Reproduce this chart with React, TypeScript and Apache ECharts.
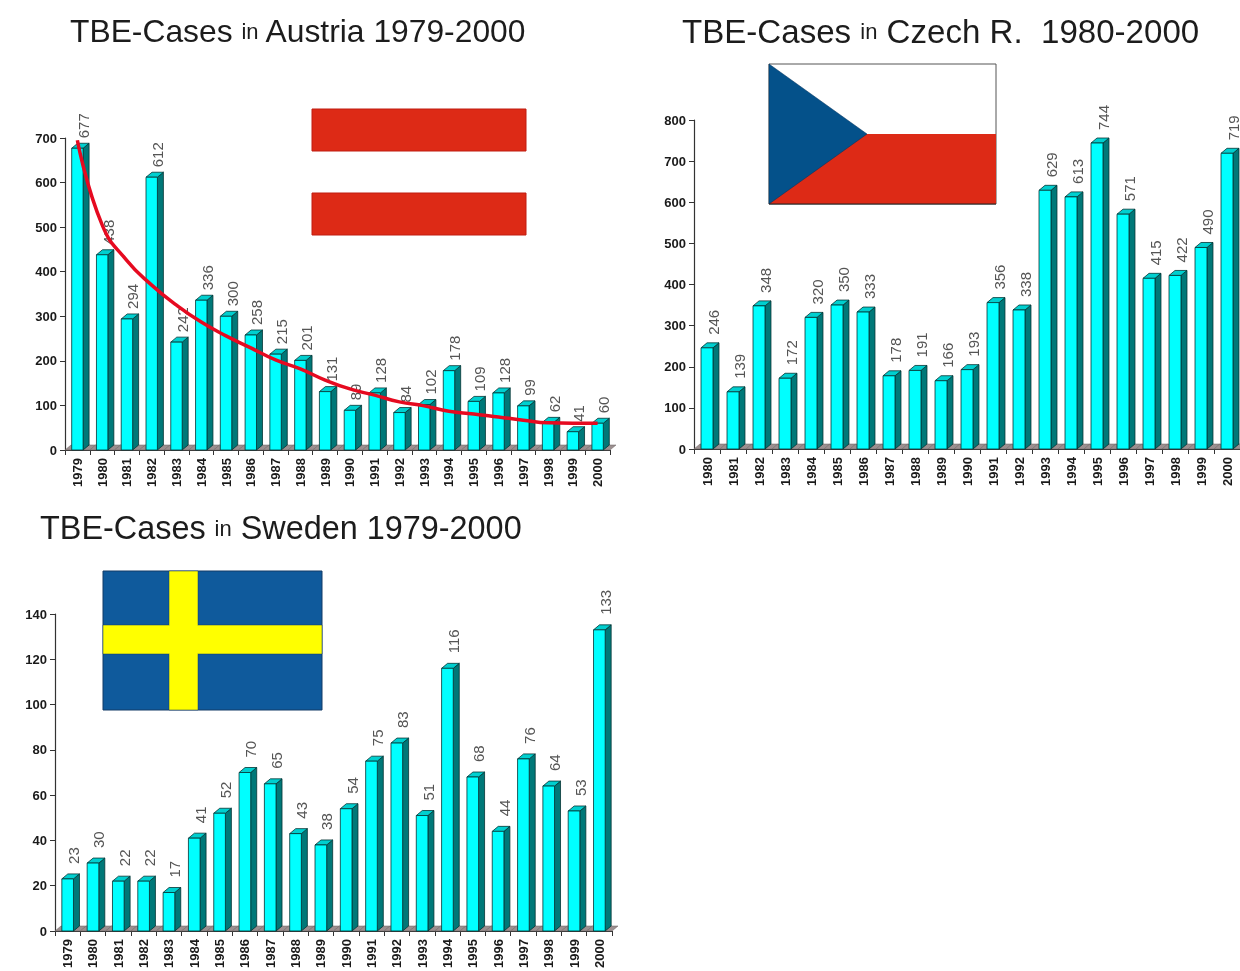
import React, { useEffect, useRef } from "react";
import * as echarts from "echarts";

const yearsAustria = ["1979","1980","1981","1982","1983","1984","1985","1986","1987","1988","1989","1990","1991","1992","1993","1994","1995","1996","1997","1998","1999","2000"];
const yearsCzech = yearsAustria.slice(1);
const yearsSweden = yearsAustria;
const casesAustria = [677,438,294,612,242,336,300,258,215,201,131,89,128,84,102,178,109,128,99,62,41,60];
const casesCzech = [246,139,348,172,320,350,333,178,191,166,193,356,338,629,613,744,571,415,422,490,719];
const casesSweden = [23,30,22,22,17,41,52,70,65,43,38,54,75,83,51,116,68,44,76,64,53,133];
const trendAustria = [695,505,425,370,325,287,256,229,202,182,157,137,123,108,99,87,81,74,67,61,60,60];

const FONT = "'Liberation Sans', Arial, sans-serif";
const DEPTH_X = 6;
const DEPTH_Y = 5;

function renderFloor(_p: any, api: any) {
  const [x, y0] = api.coord([api.value(0), 0]);
  const band = api.size([1, 0])[0];
  const l = x - band / 2, r = x + band / 2;
  return {
    type: "polygon",
    shape: { points: [[l, y0], [r, y0], [r + DEPTH_X, y0 - DEPTH_Y], [l + DEPTH_X, y0 - DEPTH_Y]] },
    style: { fill: "#9c9090", stroke: "#6a6060", lineWidth: 0.5 },
  };
}

const makeRenderBar = (gap: number) => (_p: any, api: any) => {
  const val = api.value(1);
  const [x, yTop] = api.coord([api.value(0), val]);
  const [, y0] = api.coord([api.value(0), 0]);
  const band = api.size([1, 0])[0];
  const w = band * 0.46;
  const l = x - w / 2, r = x + w / 2;
  const edge = { stroke: "#043434", lineWidth: 0.8 };
  return {
    type: "group",
    children: [
      { type: "polygon", shape: { points: [[r, yTop], [r + DEPTH_X, yTop - DEPTH_Y], [r + DEPTH_X, y0 - DEPTH_Y], [r, y0]] }, style: { fill: "#007878", ...edge } },
      { type: "polygon", shape: { points: [[l, yTop], [r, yTop], [r + DEPTH_X, yTop - DEPTH_Y], [l + DEPTH_X, yTop - DEPTH_Y]] }, style: { fill: "#00cfcf", ...edge } },
      { type: "rect", shape: { x: l, y: yTop, width: w, height: y0 - yTop }, style: { fill: "#00ffff", ...edge } },
      {
        type: "text",
        x: x + 6,
        y: yTop - gap,
        rotation: Math.PI / 2,
        style: { text: String(val), fill: "#555555", font: `15px ${FONT}`, textAlign: "left", textVerticalAlign: "middle" },
      },
    ],
  };
};

type Panel = { years: string[]; values: number[]; max: number; step: number; left: number; top: number; width: number; height: number; margin: number; gap: number };
const panels: Panel[] = [
  { years: yearsAustria, values: casesAustria, max: 700, step: 100, left: 65, top: 138, width: 545, height: 312, margin: 8, gap: 10 },
  { years: yearsCzech, values: casesCzech, max: 800, step: 100, left: 694, top: 120, width: 546, height: 329, margin: 8, gap: 13 },
  { years: yearsSweden, values: casesSweden, max: 140, step: 20, left: 55, top: 614, width: 557, height: 317, margin: 8, gap: 15 },
];

const titleOf = (place: string, left: number, top: number, size: number) => ({
  text: `{a|TBE-Cases }{b|in}{a| ${place}}`,
  left,
  top,
  textStyle: {
    rich: {
      a: { fontFamily: FONT, fontSize: size, fontWeight: "normal", color: "#1c1c1c" },
      b: { fontFamily: FONT, fontSize: 22, fontWeight: "normal", color: "#1c1c1c" },
    },
  },
});

export default function App() {
  const ref = useRef<HTMLDivElement>(null);
  useEffect(() => {
    const chart = echarts.init(ref.current!, undefined, { renderer: "svg" });
    const axisLine = { lineStyle: { color: "#333333", width: 1.2 } };
    chart.setOption({
      animation: false,
      backgroundColor: "#ffffff",
      title: [
        titleOf("Austria 1979-2000", 65, 10, 31.8),
        titleOf("Czech R.  1980-2000", 677, 10, 33.1),
        titleOf("Sweden 1979-2000", 35, 507, 32.4),
      ],
      grid: panels.map((p) => ({ left: p.left, top: p.top, width: p.width, height: p.height })),
      xAxis: panels.map((p, i) => ({
        type: "category",
        gridIndex: i,
        data: p.years,
        boundaryGap: true,
        axisLine: { show: true, ...axisLine },
        axisTick: { show: true, alignWithLabel: false, length: 5, lineStyle: { color: "#333333" } },
        axisLabel: { interval: 0, rotate: 90, margin: p.margin, color: "#1a1a1a", fontWeight: "bold", fontSize: 13, fontFamily: FONT },
        splitLine: { show: false },
      })),
      yAxis: panels.map((p, i) => ({
        type: "value",
        gridIndex: i,
        min: 0,
        max: p.max,
        interval: p.step,
        axisLine: { show: true, ...axisLine },
        axisTick: { show: true, length: 5, lineStyle: { color: "#333333" } },
        axisLabel: { margin: 8, color: "#1a1a1a", fontWeight: "bold", fontSize: 13, fontFamily: FONT },
        splitLine: { show: false },
      })),
      series: [
        ...panels.map((p, i) => ({
          type: "custom",
          xAxisIndex: i,
          yAxisIndex: i,
          z: 1,
          silent: true,
          clip: false,
          renderItem: renderFloor,
          encode: { x: 0, y: 1 },
          data: p.values.map((v, k) => [k, v]),
        })),
        ...panels.map((p, i) => ({
          type: "custom",
          xAxisIndex: i,
          yAxisIndex: i,
          z: 3,
          silent: true,
          clip: false,
          renderItem: makeRenderBar(p.gap),
          encode: { x: 0, y: 1 },
          data: p.values.map((v, k) => [k, v]),
        })),
        {
          type: "line",
          xAxisIndex: 0,
          yAxisIndex: 0,
          z: 5,
          smooth: 0.5,
          showSymbol: false,
          lineStyle: { color: "#e60a20", width: 3.5 },
          data: trendAustria,
        },
      ],
      graphic: [
        { type: "rect", z: 6, shape: { x: 312, y: 109, width: 214, height: 42 }, style: { fill: "#dd2a16", stroke: "#c01c10", lineWidth: 1 } },
        { type: "rect", z: 6, shape: { x: 312, y: 193, width: 214, height: 42 }, style: { fill: "#dd2a16", stroke: "#c01c10", lineWidth: 1 } },
        { type: "rect", z: 6, shape: { x: 769, y: 64, width: 227, height: 140 }, style: { fill: "#ffffff", stroke: "#555555", lineWidth: 1 } },
        { type: "polygon", z: 6, shape: { points: [[769, 134], [996, 134], [996, 204], [769, 204]] }, style: { fill: "#dd2a16" } },
        { type: "polygon", z: 6, shape: { points: [[769, 64], [867, 134], [769, 204]] }, style: { fill: "#04518a", stroke: "#03315a", lineWidth: 0.5 } },
        { type: "line", z: 6, shape: { x1: 769, y1: 204, x2: 996, y2: 204 }, style: { stroke: "#222222", lineWidth: 1 } },
        { type: "rect", z: 6, shape: { x: 103, y: 571, width: 219, height: 139 }, style: { fill: "#0f5a9c", stroke: "#123a66", lineWidth: 1 } },
        { type: "rect", z: 6, shape: { x: 169, y: 571, width: 29, height: 139 }, style: { fill: "#ffff00", stroke: "#123a66", lineWidth: 0.5 } },
        { type: "rect", z: 6, shape: { x: 103, y: 625, width: 219, height: 29 }, style: { fill: "#ffff00", stroke: "#123a66", lineWidth: 0.5 } },
        { type: "rect", z: 6, shape: { x: 169.5, y: 624, width: 28, height: 31 }, style: { fill: "#ffff00" } },
      ],
    });
    return () => chart.dispose();
  }, []);
  return <div ref={ref} style={{ position: "absolute", left: 0, top: 0, width: 1240, height: 971, filter: "blur(0.4px)" }} />;
}
